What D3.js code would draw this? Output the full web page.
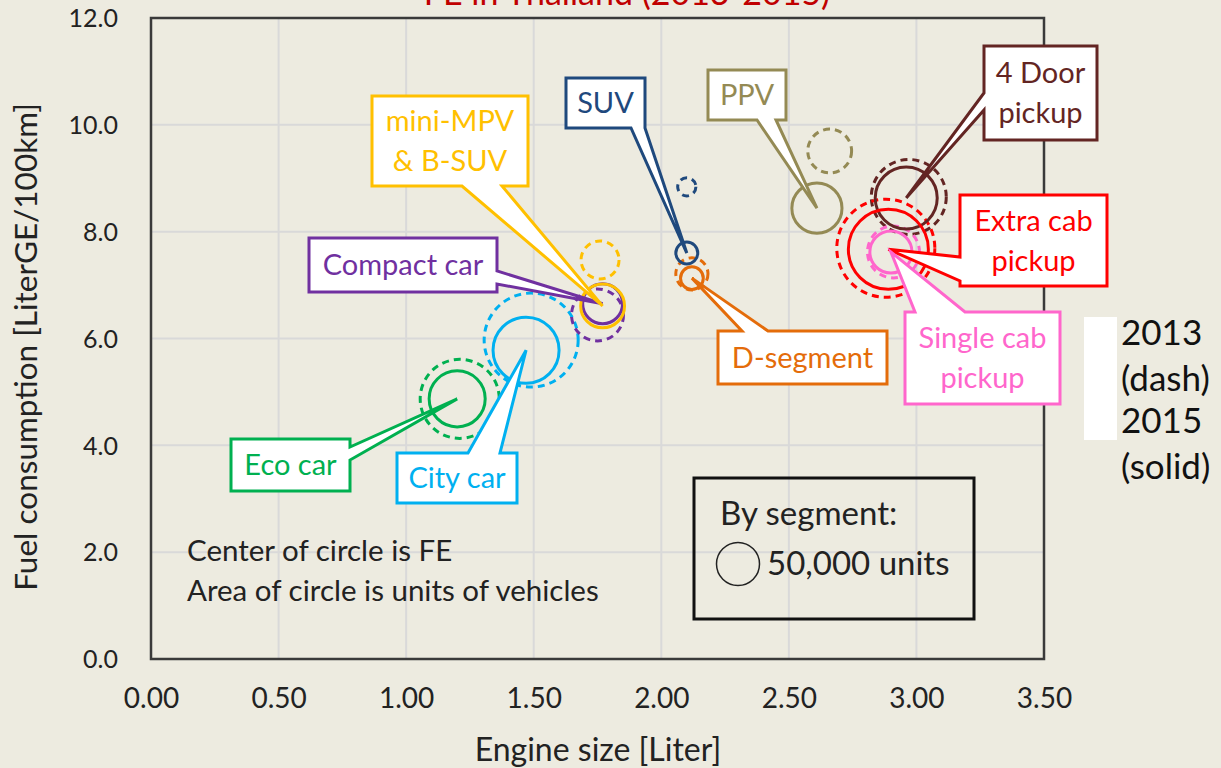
<!DOCTYPE html>
<html><head><meta charset="utf-8">
<script src="https://cdn.jsdelivr.net/npm/d3@7"></script>
<style>
html,body{margin:0;padding:0;background:#EDEBE0;}
svg{display:block;font-family:Lato,"Open Sans",sans-serif;}
</style></head>
<body>
<svg id="c" width="1221" height="768"></svg>
<script>
// ---------- data ----------
const segments   = ["Eco car","City car","Compact car","mini-MPV & B-SUV","SUV","D-segment","PPV","4 Door pickup","Extra cab pickup","Single cab pickup"];
const engine2013 = [1.21, 1.49, 1.75, 1.76, 2.10, 2.12, 2.66, 2.97, 2.88, 2.91];
const fe2013     = [4.87, 5.97, 6.44, 7.47, 8.84, 7.21, 9.51, 8.65, 7.69, 7.62];
const units2013  = [169000, 239000, 73000, 39000, 9000, 28000, 52000, 152000, 260000, 73000];
const engine2015 = [1.20, 1.47, 1.77, 1.77, 2.10, 2.12, 2.61, 2.96, 2.89, 2.90];
const fe2015     = [4.87, 5.78, 6.65, 6.61, 7.60, 7.13, 8.44, 8.63, 7.67, 7.62];
const units2015  = [85000, 118000, 43000, 52000, 13000, 14000, 68000, 104000, 173000, 48000];
const colors     = ["#00B050","#00B0F0","#7030A0","#FFC000","#1F497D","#E46C0A","#948A54","#632523","#FF0000","#FF66CC"];
const xTicks = [0,0.5,1,1.5,2,2.5,3,3.5];
const yTicks = [0,2,4,6,8,10,12];
const legendUnits = 50000;

// ---------- layout ----------
const W = 1221, H = 768;
const M = {left:151, top:18, right:1044, bottom:659};
const svg = d3.select("#c");
const x = d3.scaleLinear().domain([0,3.5]).range([M.left, M.right]);
const y = d3.scaleLinear().domain([0,12]).range([M.bottom, M.top]);
const r = d3.scaleSqrt().domain([0, legendUnits]).range([0, 21.5]);

svg.append("rect").attr("width",W).attr("height",H).attr("fill","#EDEBE0");

// gridlines
const g = svg.append("g");
g.selectAll("line.vx").data(xTicks).enter().append("line")
  .attr("x1",d=>x(d)).attr("x2",d=>x(d)).attr("y1",M.top).attr("y2",M.bottom)
  .attr("stroke","#D9D9D9").attr("stroke-width",2);
g.selectAll("line.hy").data(yTicks).enter().append("line")
  .attr("y1",d=>y(d)).attr("y2",d=>y(d)).attr("x1",M.left).attr("x2",M.right)
  .attr("stroke","#D9D9D9").attr("stroke-width",2);

// axes
const xAxis = d3.axisBottom(x).tickValues(xTicks).tickFormat(d3.format(".2f")).tickSize(0).tickPadding(27);
const yAxis = d3.axisLeft(y).tickValues(yTicks).tickFormat(d3.format(".1f")).tickSize(0).tickPadding(33);
const gx = svg.append("g").attr("transform",`translate(0,${M.bottom})`).call(xAxis);
const gy = svg.append("g").attr("transform",`translate(${M.left},0)`).call(yAxis);
[gx,gy].forEach(a=>{ a.select(".domain").remove();
  a.selectAll("text").attr("font-family","Lato").attr("fill","#222"); });
gx.selectAll("text").attr("font-size",28).attr("dy","0.8em");
gy.selectAll("text").attr("font-size",25).attr("dy","0.35em");

// frame
svg.append("rect").attr("x",M.left).attr("y",M.top).attr("width",M.right-M.left).attr("height",M.bottom-M.top)
  .attr("fill","none").attr("stroke","#3A3A3A").attr("stroke-width",2.5);

// axis titles
svg.append("text").attr("x",598).attr("y",761).attr("text-anchor","middle").attr("font-size",32).attr("fill","#222").text("Engine size [Liter]");
svg.append("text").attr("transform","translate(37,347) rotate(-90)").attr("text-anchor","middle").attr("font-size",31.5).attr("fill","#222").text("Fuel consumption [LiterGE/100km]");

// title (cut at top, as in the reference)
svg.append("text").attr("x",627).attr("y",5).attr("text-anchor","middle").attr("font-size",34).attr("fill","#C00000").text("FE in Thailand (2013-2015)");

// circles
const idx = d3.range(segments.length);
const cg = svg.append("g");
cg.selectAll("circle.d13").data(idx).enter().append("circle")
  .attr("cx",i=>x(engine2013[i])).attr("cy",i=>y(fe2013[i])).attr("r",i=>r(units2013[i]))
  .attr("fill","none").attr("stroke",i=>colors[i]).attr("stroke-width",3).attr("stroke-dasharray","7,5");
cg.selectAll("circle.s15").data(idx).enter().append("circle")
  .attr("cx",i=>x(engine2015[i])).attr("cy",i=>y(fe2015[i])).attr("r",i=>r(units2015[i]))
  .attr("fill","none").attr("stroke",i=>colors[i]).attr("stroke-width",3);

// callouts: box (pixel layout), side with wedge base, tip at 2015 point
const callouts = [
  {i:0, lines:["Eco car"], box:[231,439,119,52], side:"right", b:[447,460]},
  {i:1, lines:["City car"], box:[397,453,120,50], side:"top", b:[468,500]},
  {i:2, lines:["Compact car"], box:[309,238,188,54], side:"right", b:[271,284]},
  {i:3, lines:["mini-MPV","& B-SUV"], box:[372,96,156,90], side:"bottom", b:[462,502]},
  {i:4, lines:["SUV"], box:[566,78,79,50], side:"bottom", b:[631,645]},
  {i:5, lines:["D-segment"], box:[718,331,169,53], side:"top", b:[742,768]},
  {i:6, lines:["PPV"], box:[708,70,78,50], side:"bottom", b:[757,776]},
  {i:7, lines:["4 Door","pickup"], box:[984,46,113,94], side:"left", b:[93,110]},
  {i:8, lines:["Extra cab","pickup"], box:[960,195,147,91], side:"left", b:[257,281]},
  {i:9, lines:["Single cab","pickup"], box:[905,312,155,92], side:"top", b:[915,965]}
];
function calloutPath(c){
  const [bx,by,bw,bh] = c.box, X2=bx+bw, Y2=by+bh;
  const t = [x(engine2015[c.i]), y(fe2015[c.i])];
  const [b1,b2] = c.b;
  let p;
  if(c.side==="bottom") p=[[bx,by],[X2,by],[X2,Y2],[b2,Y2],t,[b1,Y2],[bx,Y2]];
  else if(c.side==="top") p=[[bx,by],[b1,by],t,[b2,by],[X2,by],[X2,Y2],[bx,Y2]];
  else if(c.side==="left") p=[[bx,by],[X2,by],[X2,Y2],[bx,Y2],[bx,b2],t,[bx,b1]];
  else p=[[bx,by],[X2,by],[X2,b1],t,[X2,b2],[X2,Y2],[bx,Y2]];
  return "M"+p.map(q=>q.join(",")).join("L")+"Z";
}
const co = svg.append("g").selectAll("g").data(callouts).enter().append("g");
co.append("path").attr("d",calloutPath).attr("fill","#fff").attr("stroke",c=>colors[c.i])
  .attr("stroke-width",3).attr("stroke-linejoin","miter");
co.each(function(c){
  const [bx,by,bw,bh]=c.box, n=c.lines.length, lh=40;
  const sel=d3.select(this);
  c.lines.forEach((t,k)=>{
    sel.append("text").attr("x",bx+bw/2).attr("y",by+bh/2+(k-(n-1)/2)*lh).attr("dy","0.35em")
      .attr("text-anchor","middle").attr("font-size",29).attr("fill",colors[c.i]).text(t);
  });
});

// notes
svg.append("text").attr("x",187).attr("y",561).attr("font-size",29.5).attr("fill","#222").text("Center of circle is FE");
svg.append("text").attr("x",187).attr("y",601).attr("font-size",29.5).attr("fill","#222").text("Area of circle is units of vehicles");

// size legend box
svg.append("rect").attr("x",694).attr("y",478).attr("width",280).attr("height",141).attr("fill","none").attr("stroke","#111").attr("stroke-width",3);
svg.append("text").attr("x",720).attr("y",525).attr("font-size",33).attr("fill","#222").text("By segment:");
svg.append("circle").attr("cx",738).attr("cy",564).attr("r",r(legendUnits)).attr("fill","none").attr("stroke","#222").attr("stroke-width",1.5);
svg.append("text").attr("x",767).attr("y",575).attr("font-size",33).attr("fill","#222").text("50,000 units");

// year legend
svg.append("rect").attr("x",1084).attr("y",317).attr("width",33).attr("height",123).attr("fill","#fff");
[["2013",345],["(dash)",391],["2015",433],["(solid)",479]].forEach(([t,yy])=>{
  svg.append("text").attr("x",1121).attr("y",yy).attr("font-size",35).attr("fill","#111").text(t);
});
</script>
</body></html>
